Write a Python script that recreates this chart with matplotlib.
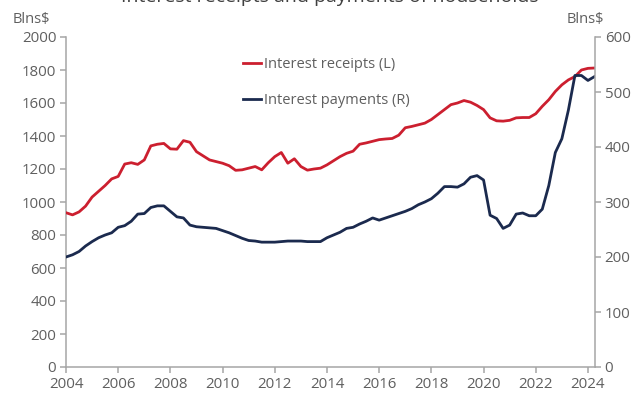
import numpy as np
import matplotlib
matplotlib.use("Agg")
import matplotlib.pyplot as plt

# quarterly data, 2004Q1 .. 2024Q2 (Blns$)
FIRST_YEAR = 2004

# Interest receipts, left axis
receipts = [
    935, 922, 940, 975,        # 2004
    1030, 1065, 1100, 1140,    # 2005
    1155, 1230, 1238, 1228,    # 2006
    1255, 1340, 1350, 1355,    # 2007
    1322, 1320, 1372, 1362,    # 2008
    1305, 1280, 1255, 1245,    # 2009
    1235, 1220, 1192, 1195,    # 2010
    1205, 1215, 1195, 1238,    # 2011
    1275, 1300, 1235, 1262,    # 2012
    1215, 1193, 1200, 1205,    # 2013
    1225, 1250, 1275, 1295,    # 2014
    1308, 1350, 1358, 1368,    # 2015
    1378, 1382, 1385, 1405,    # 2016
    1450, 1458, 1468, 1478,    # 2017
    1500, 1530, 1560, 1590,    # 2018
    1600, 1615, 1605, 1585,    # 2019
    1560, 1510, 1492, 1490,    # 2020
    1495, 1510, 1512, 1512,    # 2021
    1535, 1580, 1620, 1670,    # 2022
    1710, 1740, 1760, 1800,    # 2023
    1810, 1812,                # 2024
]

# Interest payments, right axis
payments = [
    200, 204, 210, 220,        # 2004
    228, 235, 240, 244,        # 2005
    254, 257, 265, 278,        # 2006
    279, 290, 293, 293,        # 2007
    283, 273, 271, 258,        # 2008
    255, 254, 253, 252,        # 2009
    248, 244, 239, 234,        # 2010
    230, 229, 227, 227,        # 2011
    227, 228, 229, 229,        # 2012
    229, 228, 228, 228,        # 2013
    235, 240, 245, 252,        # 2014
    254, 260, 265, 271,        # 2015
    267, 271, 275, 279,        # 2016
    283, 288, 295, 300,        # 2017
    306, 316, 328, 328,        # 2018
    327, 333, 345, 348,        # 2019
    340, 276, 270, 252,        # 2020
    258, 278, 280, 275,        # 2021
    275, 287, 330, 390,        # 2022
    415, 467, 530, 530,        # 2023
    521, 528,                  # 2024
]

year_ticks = [2004, 2006, 2008, 2010, 2012, 2014, 2016, 2018, 2020, 2022, 2024]
left_ticks = [0, 200, 400, 600, 800, 1000, 1200, 1400, 1600, 1800, 2000]
right_ticks = [0, 100, 200, 300, 400, 500, 600]

RED = "#cc1f2f"
NAVY = "#1b2a4e"
GREY_TXT = "#5f5f5f"
GREY_AX = "#a6a6a6"

plt.rcParams["font.family"] = ["Open Sans", "DejaVu Sans"]

x = FIRST_YEAR + np.arange(len(receipts)) * 0.25

fig = plt.figure(figsize=(6.36, 3.96), dpi=100)
ax = fig.add_axes([66 / 636, 1 - 367 / 396, (595 - 66) / 636, (367 - 37) / 396])
ax2 = ax.twinx()

l1, = ax.plot(x, receipts, color=RED, lw=2.0, label="Interest receipts (L)", zorder=3)
l2, = ax2.plot(x, payments, color=NAVY, lw=2.0, label="Interest payments (R)")

ax.set_xlim(2004, 2024.27)
ax.set_ylim(0, 2000)
ax2.set_ylim(0, 600)
ax.set_xticks(year_ticks)
ax.set_yticks(left_ticks)
ax2.set_yticks(right_ticks)

for a in (ax, ax2):
    a.set_facecolor("none")
    for s in a.spines.values():
        s.set_color(GREY_AX)
        s.set_linewidth(1.1)
    a.spines["top"].set_visible(False)
    a.tick_params(colors=GREY_AX, labelcolor=GREY_TXT, labelsize=10.8,
                  length=4, width=1.1, direction="out", pad=3)
ax.spines["right"].set_visible(False)
ax2.spines["left"].set_visible(False)
ax2.spines["bottom"].set_visible(False)

fig.text(31 / 636, 1 - 19 / 396, "Blns$", ha="center", va="center",
         fontsize=10.5, color=GREY_TXT)
fig.text(585 / 636, 1 - 19 / 396, "Blns$", ha="center", va="center",
         fontsize=10.5, color=GREY_TXT)
# title is cropped at the top edge in the source image
fig.text(330 / 636, 1 - 2.5 / 396, "Interest receipts and payments of households",
         ha="center", va="baseline", fontsize=14, color="#404040")

ax2.legend(handles=[l1, l2], loc="upper left",
           bbox_to_anchor=(243 / 636, 1 - 57 / 396), bbox_transform=fig.transFigure,
           frameon=False, fontsize=10.5, labelcolor=GREY_TXT,
           handlelength=1.2, handletextpad=0.25, labelspacing=1.45,
           borderpad=0, borderaxespad=0)

fig.savefig("out.png", dpi=100)
